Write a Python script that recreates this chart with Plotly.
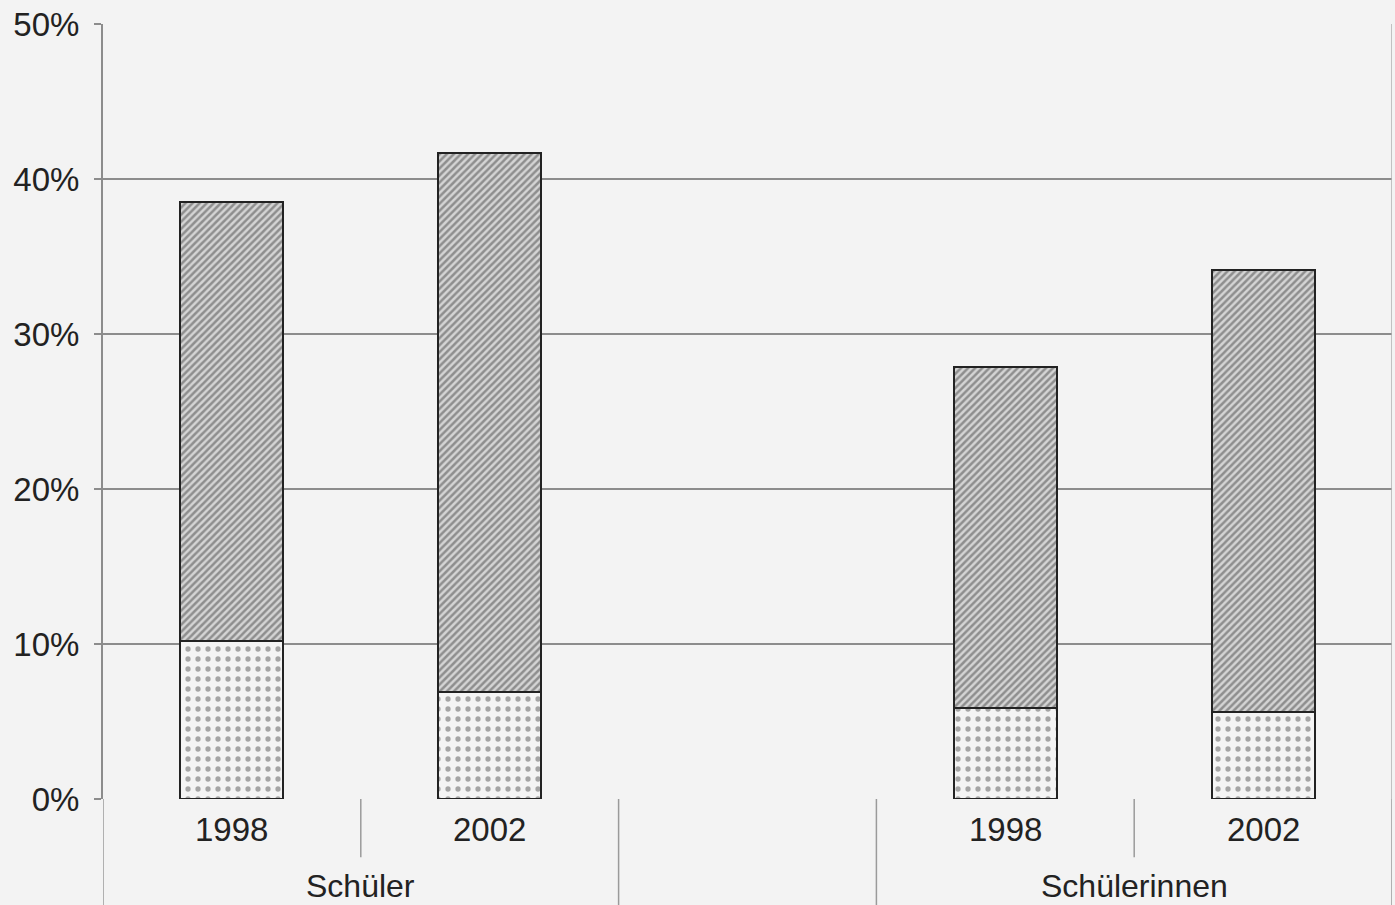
import plotly.graph_objects as go

# ---- data ----
groups = ["Schüler", "Schüler", "Schülerinnen", "Schülerinnen"]
years = ["1998", "2002", "1998", "2002"]
lower_share = [10.2, 6.9, 5.9, 5.6]      # dotted segment (%)
upper_share = [28.3, 34.8, 22.0, 28.5]   # hatched segment (%)
y_ticks = [0, 10, 20, 30, 40, 50]
y_tick_text = [f"{v}%" for v in y_ticks]

FONT = "Liberation Sans, Arial, sans-serif"
BG = "#f3f3f3"

# category slot positions: groups separated by one empty slot
group_names = list(dict.fromkeys(groups))
pos = []
for g, name in enumerate(group_names):
    idx = [i for i, gg in enumerate(groups) if gg == name]
    for j, _ in enumerate(idx):
        pos.append(g * 3 + j)

fig = go.Figure()
fig.add_trace(go.Bar(
    x=pos, y=lower_share, width=0.4,
    marker=dict(color="#f4f4f4", line=dict(color="#222222", width=2),
                pattern=dict(shape=".", size=10, solidity=0.22,
                             fgcolor="#555555", bgcolor="#f4f4f4", fillmode="overlay")),
    showlegend=False, hoverinfo="skip"))
fig.add_trace(go.Bar(
    x=pos, y=upper_share, width=0.4,
    marker=dict(color="#cccccc", line=dict(color="#222222", width=2),
                pattern=dict(shape="/", size=5, solidity=0.5,
                             fgcolor="#474747", bgcolor="#d4d4d4", fillmode="overlay")),
    showlegend=False, hoverinfo="skip"))

xmin, xmax = -0.5, max(pos) + 0.5

# year labels and group labels
for p, yr in zip(pos, years):
    fig.add_annotation(x=p, xref="x", y=0, yref="paper", yshift=-30,
                       text=yr, showarrow=False, yanchor="middle",
                       font=dict(family=FONT, size=33, color="#222222"))
shapes = []
for g, name in enumerate(group_names):
    ps = [p for p, gg in zip(pos, groups) if gg == name]
    fig.add_annotation(x=sum(ps) / len(ps), xref="x", y=0, yref="paper", yshift=-87,
                       text=name, showarrow=False, yanchor="middle",
                       font=dict(family=FONT, size=32, color="#222222"))
    # short dividers between years inside a group
    for a, b in zip(ps[:-1], ps[1:]):
        shapes.append(dict(type="line", xref="x", yref="paper",
                           x0=(a + b) / 2, x1=(a + b) / 2, y0=0, y1=-0.075,
                           line=dict(color="#9a9a9a", width=1.5)))
    # long dividers at group edges
    for edge in (min(ps) - 0.5, max(ps) + 0.5):
        shapes.append(dict(type="line", xref="x", yref="paper",
                           x0=edge, x1=edge, y0=0, y1=-0.15,
                           line=dict(color="#9a9a9a", width=1.5)))
# right plot border
shapes.append(dict(type="line", xref="x", yref="paper", x0=xmax, x1=xmax,
                   y0=1, y1=-0.15, line=dict(color="#b0b0b0", width=1.5)))

fig.update_layout(
    width=1395, height=905,
    barmode="stack",
    paper_bgcolor=BG, plot_bgcolor=BG,
    margin=dict(l=103, r=3, t=24, b=106),
    font=dict(family=FONT, size=33, color="#222222"),
    shapes=shapes,
    xaxis=dict(range=[xmin, xmax], showticklabels=False, showgrid=False,
               zeroline=False, ticks="", showline=False),
    yaxis=dict(range=[0, 50], tickmode="array", tickvals=y_ticks, ticktext=y_tick_text,
               showgrid=True, gridcolor="#8c8c8c", gridwidth=2,
               zeroline=False, showline=True, linecolor="#8c8c8c", linewidth=2,
               ticks="outside", ticklen=7, tickcolor="#8c8c8c", tickwidth=2,
               ticklabelstandoff=8,
               tickfont=dict(family=FONT, size=33, color="#222222")),
)

fig.write_html("out.html", config={"displayModeBar": False},
               post_script="document.body.style.margin='0';document.body.style.background='#f3f3f3';")
